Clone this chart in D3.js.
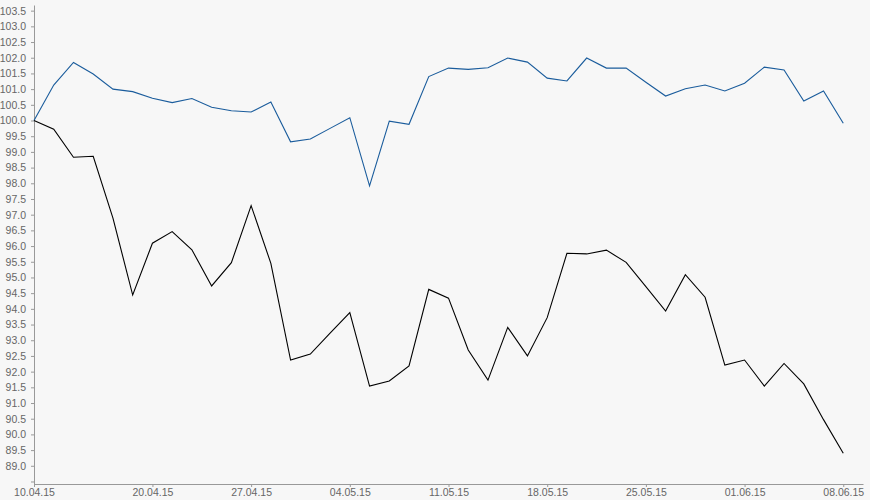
<!DOCTYPE html>
<html lang="de">
<head>
<meta charset="utf-8">
<title>Kursvergleich</title>
<style>
  html, body { margin: 0; padding: 0; background: #f7f7f7; }
  .axis text { font-family: "Liberation Sans", Arial, sans-serif; font-size: 10.5px; fill: #666; }
  .axis path, .axis line { stroke: #999; }
  .line { fill: none; stroke-width: 1.1px; }
</style>
</head>
<body>
<div id="chart"></div>
<script src="https://cdn.jsdelivr.net/npm/d3@7/dist/d3.min.js"></script>
<script>
  var width = 870, height = 500;

  // trading days 10.04.15 .. 08.06.15
  var dates = ["10.04.15",
    "13.04.15","14.04.15","15.04.15","16.04.15","17.04.15",
    "20.04.15","21.04.15","22.04.15","23.04.15","24.04.15",
    "27.04.15","28.04.15","29.04.15","30.04.15","01.05.15",
    "04.05.15","05.05.15","06.05.15","07.05.15","08.05.15",
    "11.05.15","12.05.15","13.05.15","14.05.15","15.05.15",
    "18.05.15","19.05.15","20.05.15","21.05.15","22.05.15",
    "25.05.15","26.05.15","27.05.15","28.05.15","29.05.15",
    "01.06.15","02.06.15","03.06.15","04.06.15","05.06.15",
    "08.06.15"];

  var blueSeries = [100.0, 101.13, 101.85, 101.48, 101.0, 100.92, 100.71, 100.57, 100.70, 100.42,
    100.31, 100.27, 100.59, 99.32, 99.41, 99.75, 100.09, 97.92, 99.98, 99.88,
    101.40, 101.67, 101.63, 101.68, 101.99, 101.86, 101.35, 101.26, 101.99, 101.67,
    101.67, 101.22, 100.78, 101.01, 101.13, 100.94, 101.19, 101.70, 101.61, 100.62,
    100.94, 99.91];

  var blackSeries = [100.0, 99.72, 98.83, 98.86, 96.89, 94.44, 96.09, 96.46, 95.88, 94.73,
    95.47, 97.29, 95.45, 92.37, 92.56, 93.23, 93.88, 91.54, 91.70, 92.18,
    94.62, 94.34, 92.69, 91.73, 93.41, 92.50, 93.72, 95.77, 95.75, 95.87,
    95.48, 94.71, 93.93, 95.09, 94.37, 92.21, 92.37, 91.54, 92.26, 91.61,
    90.47, 89.40];

  var xTickLabels = ["10.04.15", "20.04.15", "27.04.15", "04.05.15", "11.05.15",
    "18.05.15", "25.05.15", "01.06.15", "08.06.15"];

  var svg = d3.select("#chart")
      .append("svg")
      .attr("width", width)
      .attr("height", height);

  var x = d3.scaleLinear().domain([0, dates.length]).range([34, 863]);
  var y = d3.scaleLinear().domain([88.42, 103.68]).range([484, 5]);

  var yTicks = d3.range(88.5, 103.51, 0.5);

  svg.append("g")
      .attr("class", "axis")
      .attr("transform", "translate(34,0)")
      .call(d3.axisLeft(y)
        .tickValues(yTicks)
        .tickSize(3)
        .tickPadding(5)
        .tickSizeOuter(0)
        .tickFormat(function(d) { return d < 88.75 ? "" : d3.format(".1f")(d); }));

  svg.append("g")
      .attr("class", "axis")
      .attr("transform", "translate(0,484)")
      .call(d3.axisBottom(x)
        .tickValues(xTickLabels.map(function(s) { return dates.indexOf(s); }))
        .tickSize(3)
        .tickPadding(2)
        .tickSizeOuter(0)
        .tickFormat(function(i) { return dates[i]; }));

  var line = d3.line()
      .x(function(d, i) { return x(i); })
      .y(function(d) { return y(d); });

  svg.append("path")
      .datum(blueSeries)
      .attr("class", "line")
      .attr("stroke", "#1a5c9c")
      .attr("d", line);

  svg.append("path")
      .datum(blackSeries)
      .attr("class", "line")
      .attr("stroke", "#000")
      .attr("d", line);
</script>
</body>
</html>
